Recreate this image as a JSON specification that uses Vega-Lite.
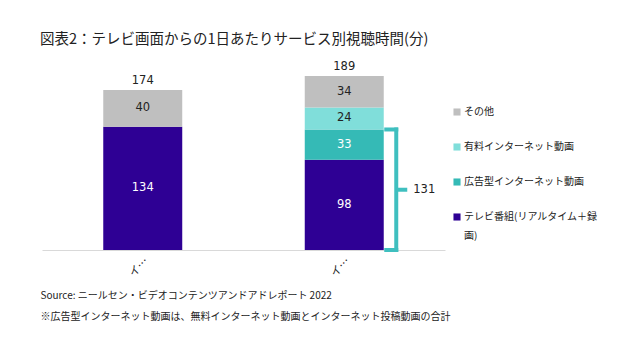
{
  "$schema": "https://vega.github.io/schema/vega-lite/v6.json",
  "width": 403,
  "height": 184,
  "autosize": {"type": "none"},
  "padding": {"left": 42, "top": 66, "right": 195, "bottom": 110},
  "background": "white",
  "title": {
    "text": "図表2：テレビ画面からの1日あたりサービス別視聴時間(分)",
    "anchor": "start",
    "frame": "group",
    "dx": -2,
    "offset": 14,
    "font": "Noto Sans CJK JP",
    "fontSize": 14.5,
    "fontWeight": "normal",
    "color": "#222222"
  },
  "config": {
    "view": {"stroke": null},
    "text": {"font": "DejaVu Sans", "fontSize": 11.5},
    "style": {"guide-label": {"lineHeight": 19}}
  },
  "datasets": {
    "minutes": [
      {"tv": "インターネット非結線TV", "type": "テレビ番組(リアルタイム＋録画)", "minutes": 134},
      {"tv": "インターネット非結線TV", "type": "その他", "minutes": 40},
      {"tv": "インターネット結線TV", "type": "テレビ番組(リアルタイム＋録画)", "minutes": 98},
      {"tv": "インターネット結線TV", "type": "広告型インターネット動画", "minutes": 33},
      {"tv": "インターネット結線TV", "type": "有料インターネット動画", "minutes": 24},
      {"tv": "インターネット結線TV", "type": "その他", "minutes": 34}
    ],
    "totals": [
      {"tv": "インターネット非結線TV", "total": 174},
      {"tv": "インターネット結線TV", "total": 189}
    ],
    "bracket": [
      {"tv": "インターネット結線TV", "lo": 0, "hi": 131, "label": "131"}
    ]
  },
  "encoding": {
    "x": {
      "field": "tv",
      "type": "nominal",
      "sort": null,
      "scale": {"domain": ["インターネット非結線TV", "インターネット結線TV"], "paddingInner": 0.608, "paddingOuter": 0.304},
      "axis": {
        "title": ["Source: ニールセン・ビデオコンテンツアンドアドレポート 2022", "※広告型インターネット動画は、無料インターネット動画とインターネット投稿動画の合計"],
        "titleFont": "Noto Sans CJK JP",
        "titleFontSize": 10,
        "titleFontWeight": "normal",
        "titleColor": "#222222",
        "titleAnchor": "start",
        "titleAlign": "left",
        "titleBaseline": "top",
        "titleX": -2,
        "titleY": 40,
        "titleLineHeight": 21,
        "labelAngle": -45,
        "labelFont": "Noto Sans CJK JP",
        "labelFontSize": 11,
        "labelLimit": 22,
        "labelColor": "#222222",
        "labelPadding": 5,
        "ticks": false,
        "domainColor": "#D9D9D9",
        "domainWidth": 1,
        "grid": false
      }
    }
  },
  "layer": [
    {
      "data": {"name": "minutes"},
      "transform": [
        {"calculate": "indexof(['テレビ番組(リアルタイム＋録画)','広告型インターネット動画','有料インターネット動画','その他'], datum.type)", "as": "rank"},
        {"stack": "minutes", "groupby": ["tv"], "sort": [{"field": "rank", "order": "ascending"}], "as": ["y0", "y1"]}
      ],
      "mark": {"type": "bar"},
      "encoding": {
        "y": {"field": "y1", "type": "quantitative", "scale": {"domain": [0, 200], "nice": false}, "axis": null},
        "y2": {"field": "y0"},
        "color": {
          "field": "type",
          "type": "nominal",
          "scale": {
            "domain": ["その他", "有料インターネット動画", "広告型インターネット動画", "テレビ番組(リアルタイム＋録画)"],
            "range": ["#BFBFBF", "#80DEDA", "#35BAB6", "#2E0094"]
          },
          "legend": {
            "title": null,
            "orient": "none",
            "legendX": 410,
            "legendY": 41,
            "symbolType": "square",
            "symbolSize": 50,
            "symbolStrokeWidth": 0,
            "labelFont": "Noto Sans CJK JP",
            "labelFontSize": 10,
            "labelColor": "#222222",
            "labelLimit": 300,
            "labelOffset": 2,
            "rowPadding": 25,
            "labelExpr": "datum.label == 'テレビ番組(リアルタイム＋録画)' ? ['テレビ番組(リアルタイム＋録', '画)'] : datum.label"
          }
        }
      }
    },
    {
      "data": {"name": "minutes"},
      "transform": [
        {"calculate": "indexof(['テレビ番組(リアルタイム＋録画)','広告型インターネット動画','有料インターネット動画','その他'], datum.type)", "as": "rank"},
        {"stack": "minutes", "groupby": ["tv"], "sort": [{"field": "rank", "order": "ascending"}], "as": ["y0", "y1"]},
        {"calculate": "(datum.y0 + datum.y1) / 2", "as": "mid"}
      ],
      "mark": {"type": "text", "baseline": "middle"},
      "encoding": {
        "y": {"field": "mid", "type": "quantitative"},
        "text": {"field": "minutes", "type": "quantitative"},
        "color": {
          "condition": {"test": "datum.type === 'テレビ番組(リアルタイム＋録画)' || datum.type === '広告型インターネット動画'", "value": "#FFFFFF"},
          "value": "#222222"
        }
      }
    },
    {
      "data": {"name": "totals"},
      "mark": {"type": "text", "baseline": "bottom", "dy": -4, "color": "#222222"},
      "encoding": {
        "y": {"field": "total", "type": "quantitative"},
        "text": {"field": "total", "type": "quantitative"}
      }
    },
    {
      "data": {"name": "bracket"},
      "mark": {"type": "rule", "xOffset": 52, "strokeWidth": 4, "color": "#3FBFBF", "strokeCap": "square"},
      "encoding": {
        "y": {"field": "lo", "type": "quantitative"},
        "y2": {"field": "hi"}
      }
    },
    {
      "data": {"name": "bracket"},
      "transform": [{"fold": ["lo", "hi"], "as": ["end", "yv"]}],
      "mark": {"type": "rule", "xOffset": 42, "x2Offset": 52, "strokeWidth": 4, "color": "#3FBFBF", "strokeCap": "square"},
      "encoding": {
        "x2": {"field": "tv"},
        "y": {"field": "yv", "type": "quantitative"}
      }
    },
    {
      "data": {"name": "bracket"},
      "transform": [{"calculate": "(datum.lo + datum.hi) / 2", "as": "mid"}],
      "mark": {"type": "rule", "xOffset": 52, "x2Offset": 63, "strokeWidth": 4, "color": "#3FBFBF", "strokeCap": "butt"},
      "encoding": {
        "x2": {"field": "tv"},
        "y": {"field": "mid", "type": "quantitative"}
      }
    },
    {
      "data": {"name": "bracket"},
      "transform": [{"calculate": "(datum.lo + datum.hi) / 2", "as": "mid"}],
      "mark": {"type": "text", "align": "left", "baseline": "middle", "xOffset": 69, "color": "#222222"},
      "encoding": {
        "y": {"field": "mid", "type": "quantitative"},
        "text": {"field": "label", "type": "nominal"}
      }
    }
  ]
}
